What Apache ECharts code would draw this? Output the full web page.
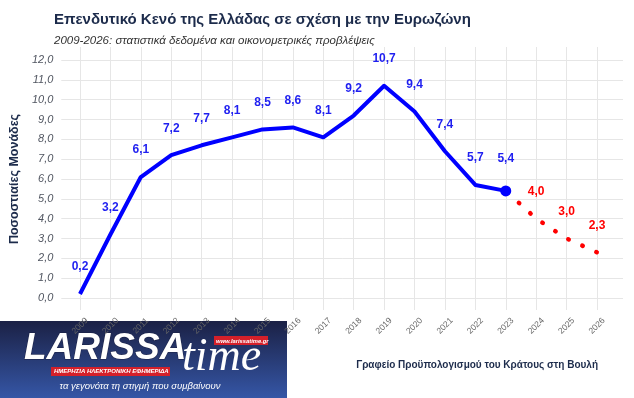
<!DOCTYPE html>
<html>
<head>
<meta charset="utf-8">
<script src="https://cdn.jsdelivr.net/npm/echarts@6/dist/echarts.min.js"></script>
<style>
html,body{margin:0;padding:0;background:#fff;}
#c{width:634px;height:398px;}
</style>
</head>
<body>
<div id="c"></div>
<script>
const years = ['2009','2010','2011','2012','2013','2014','2015','2016','2017','2018','2019','2020','2021','2022','2023','2024','2025','2026'];
const actual = [0.2,3.2,6.1,7.2,7.7,8.1,8.5,8.6,8.1,9.2,10.7,9.4,7.4,5.7,5.4,null,null,null];
const forecast = [null,null,null,null,null,null,null,null,null,null,null,null,null,null,5.4,4.0,3.0,2.3];
const yTicks = {min:0, max:12, step:1};

const fmt = v => v.toFixed(1).replace('.', ',');
const FONT = '"Liberation Sans", Arial, sans-serif';
const NAVY = '#1c2b4b';

const chart = echarts.init(document.getElementById('c'));
chart.setOption({
  animation:false,
  backgroundColor:'#fff',
  title:[
    {text:'Επενδυτικό Κενό της Ελλάδας σε σχέση με την Ευρωζώνη', left:49, top:7,
     textStyle:{fontFamily:FONT, fontSize:15, fontWeight:'bold', color:NAVY}},
    {text:'2009-2026: στατιστικά δεδομένα και οικονομετρικές προβλέψεις', left:49, top:30,
     textStyle:{fontFamily:FONT, fontSize:11.5, fontStyle:'italic', fontWeight:'normal', color:'#333'}}
  ],
  grid:[
    {left:80, right:37, top:60, bottom:100},
    {left:80, right:37, top:47, bottom:88},
    {left:53, right:11, top:60, bottom:100}
  ],
  xAxis:[
    {gridIndex:0, type:'category', data:years, boundaryGap:false, show:false},
    {gridIndex:1, type:'category', data:years, boundaryGap:false,
     axisLine:{show:false}, axisTick:{show:false},
     splitLine:{show:true, lineStyle:{color:'#e6e6e6', width:1}},
     axisLabel:{rotate:45, margin:16, align:'center', verticalAlign:'middle',
                fontFamily:FONT, fontSize:8.5, color:'#666', interval:0}},
    {gridIndex:2, type:'value', show:false, min:0, max:1}
  ],
  yAxis:[
    {gridIndex:0, type:'value', min:yTicks.min, max:yTicks.max, interval:yTicks.step, show:false},
    {gridIndex:1, type:'value', show:false, min:0, max:1},
    {gridIndex:2, type:'value', min:yTicks.min, max:yTicks.max, interval:yTicks.step,
     axisLine:{show:false}, axisTick:{show:false},
     splitLine:{show:true, lineStyle:{color:'#e6e6e6', width:1}},
     axisLabel:{formatter:fmt, margin:8, fontFamily:FONT, fontSize:11, fontStyle:'italic', color:'#505560'},
     name:'Ποσοστιαίες Μονάδες', nameLocation:'middle', nameGap:25,
     nameTextStyle:{fontFamily:FONT, fontSize:12.5, fontWeight:'bold', color:NAVY}}
  ],
  series:[
    {type:'line', xAxisIndex:0, yAxisIndex:0, data:actual, z:5,
     symbol:'circle',
     symbolSize:(v,p)=> p.dataIndex===14 ? 11 : 0,
     itemStyle:{color:'#0000ff'},
     lineStyle:{color:'#0000ff', width:4, join:'round'},
     label:{show:true, position:'top', distance:21, formatter:p=>fmt(p.value),
            fontFamily:FONT, fontSize:12, fontWeight:'bold', color:'#1f1ff0'}},
    {type:'line', xAxisIndex:0, yAxisIndex:0, data:forecast, z:4,
     symbol:'circle', symbolSize:0,
     itemStyle:{color:'#ff0000'},
     lineStyle:{color:'#ff0000', width:4.5, type:[0.5,14.9], dashOffset:13.05, cap:'round'},
     label:{show:true, position:'top', distance:21,
            formatter:p=> p.dataIndex===14 ? '' : fmt(p.value),
            fontFamily:FONT, fontSize:12, fontWeight:'bold', color:'#ff0000'}}
  ],
  graphic:[
    {type:'text', right:36, top:360, style:{text:'Γραφείο Προϋπολογισμού του Κράτους στη Βουλή',
      fontFamily:FONT, fontSize:10, fontWeight:'bold', fill:NAVY}},
    {type:'group', left:0, top:321, children:[
      {type:'rect', shape:{x:0,y:0,width:287,height:77},
       style:{fill:new echarts.graphic.LinearGradient(0,0,0,1,[{offset:0,color:'#1b2145'},{offset:1,color:'#3556a6'}])}},
      {type:'text', x:24, y:9, style:{text:'LARISSA', fontFamily:FONT, fontSize:37, fontWeight:'bold', fontStyle:'italic',
        fill:'#ffffff', stroke:'#1b2145', lineWidth:1}},
      {type:'text', x:182, y:14, style:{text:'time', fontFamily:'"Liberation Serif", serif', fontSize:46, fontStyle:'italic',
        fill:'#ffffff'}},
      {type:'rect', shape:{x:214,y:15,width:54,height:9}, style:{fill:'#d4202a'}},
      {type:'text', x:216, y:17, style:{text:'www.larissatime.gr', fontFamily:FONT, fontSize:5.8, fontWeight:'bold', fontStyle:'italic', fill:'#fff'}},
      {type:'rect', shape:{x:51,y:46,width:119,height:9}, style:{fill:'#d4202a'}},
      {type:'text', x:54, y:47.5, style:{text:'ΗΜΕΡΗΣΙΑ ΗΛΕΚΤΡΟΝΙΚΗ ΕΦΗΜΕΡΙΔΑ', fontFamily:FONT, fontSize:6, fontWeight:'bold', fontStyle:'italic', fill:'#fff'}},
      {type:'text', x:140, y:65, style:{text:'τα γεγονότα τη στιγμή που συμβαίνουν', fontFamily:FONT, fontSize:9.5, fontStyle:'italic',
        fill:'#ffffff', align:'center', verticalAlign:'middle'}}
    ]}
  ]
});
</script>
</body>
</html>
